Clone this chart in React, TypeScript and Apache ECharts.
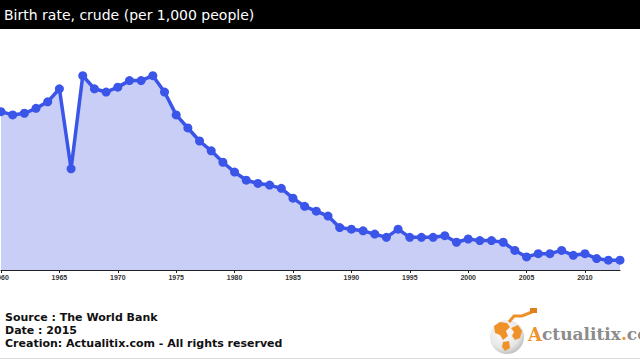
import React, { useEffect, useRef } from "react";
import * as echarts from "echarts";

const years: string[] = [];
for (let y = 1960; y <= 2013; y++) years.push(String(y));

const birthRate = [
  17.2, 17.0, 17.1, 17.4, 17.8, 18.6, 13.7, 19.4, 18.6, 18.4,
  18.7, 19.1, 19.1, 19.4, 18.4, 17.0, 16.2, 15.4, 14.8, 14.1,
  13.5, 13.0, 12.8, 12.7, 12.5, 11.9, 11.4, 11.1, 10.8, 10.1,
  10.0, 9.9, 9.7, 9.5, 10.0, 9.5, 9.5, 9.5, 9.6, 9.2,
  9.4, 9.3, 9.3, 9.2, 8.7, 8.3, 8.5, 8.5, 8.7, 8.4,
  8.5, 8.2, 8.1, 8.1,
];

const titleText = "Birth rate, crude (per 1,000 people)";
const footerLines = [
  "Source : The World Bank",
  "Date : 2015",
  "Creation: Actualitix.com - All rights reserved",
];

export default function App() {
  const ref = useRef<HTMLDivElement>(null);
  useEffect(() => {
    if (!ref.current) return;
    const chart = echarts.init(ref.current, null, { renderer: "svg" });
    const orange = "#f0922a";
    chart.setOption({
      animation: false,
      backgroundColor: "#ffffff",
      grid: {
        left: 1,
        right: 20,
        top: 30,
        bottom: 90,
        containLabel: false,
        outerBoundsMode: "none",
      },
      xAxis: {
        type: "category",
        data: years,
        boundaryGap: false,
        axisLine: { lineStyle: { color: "#222", width: 1 } },
        axisTick: { show: true, interval: 4, length: 3, lineStyle: { color: "#222" } },
        axisLabel: {
          interval: 4,
          fontSize: 7,
          fontWeight: "bold",
          color: "#333",
          fontFamily: "Liberation Sans",
          margin: 4,
          hideOverlap: false,
        },
        splitLine: { show: false },
      },
      yAxis: {
        type: "value",
        show: false,
        min: 7.5,
        max: 22.2,
        splitLine: { show: false },
      },
      series: [
        {
          type: "line",
          data: birthRate,
          symbol: "circle",
          symbolSize: 9,
          showSymbol: true,
          showAllSymbol: true,
          lineStyle: { color: "#3a55e8", width: 3.5 },
          itemStyle: { color: "#3a55e8" },
          areaStyle: { color: "#c9cef7", opacity: 1 },
          z: 2,
        },
      ],
      graphic: [
        {
          type: "rect",
          shape: { x: 0, y: 0, width: 640, height: 29 },
          style: { fill: "#000" },
          z: 10,
        },
        {
          type: "text",
          x: 4,
          y: 15,
          style: {
            text: titleText,
            fill: "#fff",
            font: "14px 'DejaVu Sans'",
            verticalAlign: "middle",
          },
          z: 11,
        },
        ...footerLines.map((t, i) => ({
          type: "text",
          x: 5,
          y: [317, 330.5, 343][i],
          style: {
            text: t,
            fill: "#111",
            font: "bold 11px 'DejaVu Sans'",
            verticalAlign: "middle",
          },
          z: 11,
        })),
        {
          type: "line",
          shape: { x1: 0, y1: 358.5, x2: 640, y2: 358.5 },
          style: { stroke: "#dddddd", lineWidth: 1 },
          z: 11,
        },
        {
          type: "circle",
          shape: { cx: 507, cy: 337, r: 17 },
          style: {
            fill: new echarts.graphic.RadialGradient(0.4, 0.35, 0.8, [
              { offset: 0, color: "#ffffff" },
              { offset: 0.6, color: "#e6e6e6" },
              { offset: 1, color: "#a8a8a8" },
            ]),
          },
          z: 11,
        },
        {
          type: "polygon",
          shape: {
            points: [
              [494, 326], [500, 322], [507, 323], [510, 327], [506, 331],
              [508, 336], [503, 340], [500, 335], [495, 333],
            ],
          },
          style: { fill: orange },
          z: 12,
        },
        {
          type: "polygon",
          shape: {
            points: [
              [511, 328], [518, 325], [522, 331], [520, 338], [515, 340],
              [512, 336], [514, 332],
            ],
          },
          style: { fill: orange },
          z: 12,
        },
        {
          type: "polygon",
          shape: {
            points: [[503, 342], [509, 341], [510, 348], [505, 351], [502, 347]],
          },
          style: { fill: orange },
          z: 12,
        },
        {
          type: "polyline",
          shape: { points: [[509, 322], [514, 316], [522, 316], [532, 312]] },
          style: { stroke: orange, lineWidth: 3, fill: null },
          z: 12,
        },
        {
          type: "rect",
          shape: { x: 530, y: 308, width: 7, height: 5 },
          style: { fill: "#e07f1c" },
          z: 12,
        },
        {
          type: "text",
          x: 528,
          y: 343,
          style: {
            text: "{a|A}{b|ctualitix}{c|.}{b|co}",
            verticalAlign: "bottom",
            rich: {
              a: { font: "bold 18px 'DejaVu Serif'", fill: orange },
              b: { font: "bold 17px 'DejaVu Serif'", fill: "#8c8c8c" },
              c: { font: "bold 17px 'DejaVu Serif'", fill: orange },
            },
          },
          z: 12,
        },
      ],
    });
    return () => chart.dispose();
  }, []);
  return <div ref={ref} style={{ width: 640, height: 360, position: "fixed", left: 0, top: 0 }} />;
}
